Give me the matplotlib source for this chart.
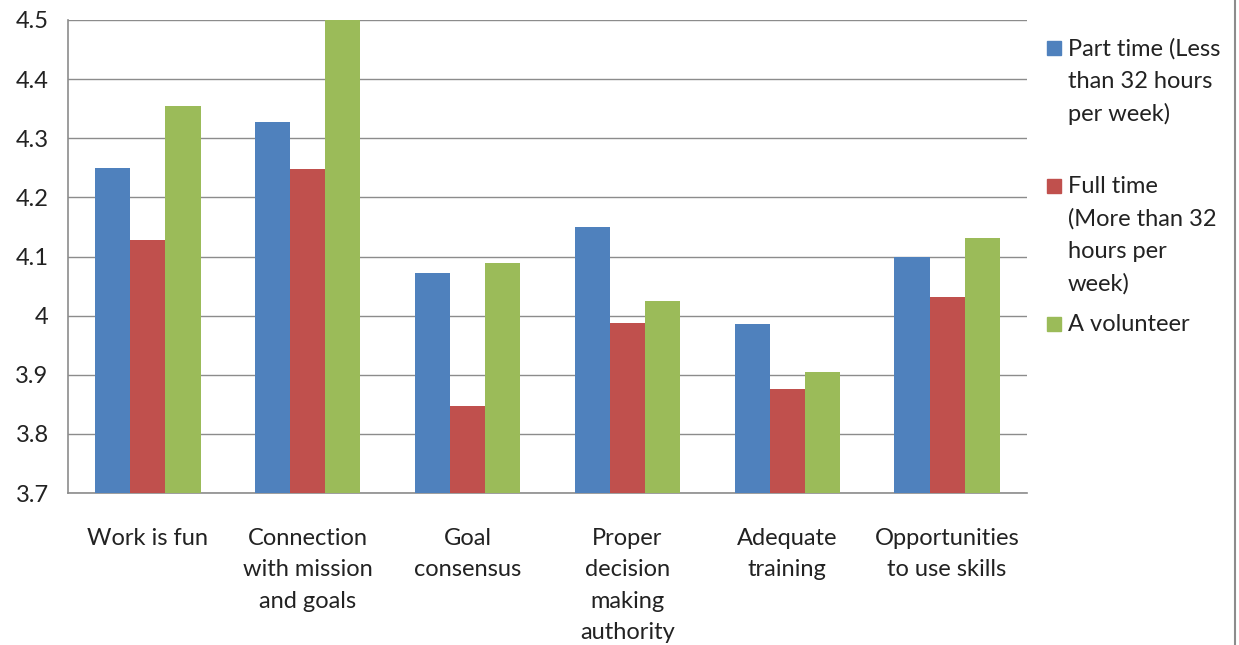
import matplotlib.pyplot as plt
import matplotlib.patches as mpatches
import numpy as np

plt.rcParams['font.family'] = ['Lato', 'DejaVu Sans']

categories = ['Work is fun', 'Connection\nwith mission\nand goals', 'Goal\nconsensus',
              'Proper\ndecision\nmaking\nauthority', 'Adequate\ntraining',
              'Opportunities\nto use skills']
series_names = ['Part time (Less\nthan 32 hours\nper week)',
                'Full time\n(More than 32\nhours per\nweek)',
                'A volunteer']
part_time = [4.25, 4.327, 4.072, 4.15, 3.986, 4.099]
full_time = [4.128, 4.248, 3.847, 3.988, 3.876, 4.031]
volunteer = [4.355, 4.5, 4.089, 4.025, 3.905, 4.131]
colors = ['#4F81BD', '#C0504D', '#9BBB59']

fig = plt.figure(figsize=(12.39, 6.45), dpi=100)
ax = fig.add_axes([68 / 1239, 1 - 493 / 645, (1027 - 68) / 1239, (493 - 20) / 645])

x = np.arange(len(categories))
width = 0.22
for i, vals in enumerate([part_time, full_time, volunteer]):
    ax.bar(x + (i - 1) * width, np.array(vals) - 3.7, width, bottom=3.7,
           color=colors[i], zorder=3)

ax.set_xlim(-0.5, len(categories) - 0.5)
ax.set_ylim(3.7, 4.5)
ax.set_yticks(np.arange(3.7, 4.51, 0.1))
ax.set_yticklabels(['3.7', '3.8', '3.9', '4', '4.1', '4.2', '4.3', '4.4', '4.5'])
ax.yaxis.grid(True, color='#8c8c8c', linewidth=1, zorder=0)
ax.set_xticks(x)
ax.set_xticklabels(categories, linespacing=1.62, va='top')
ax.tick_params(axis='x', length=0, pad=25, labelsize=17, colors='#222222')
ax.tick_params(axis='y', length=0, pad=14, labelsize=17, colors='#222222')
for s in ['top', 'right']:
    ax.spines[s].set_visible(False)
for s in ['left', 'bottom']:
    ax.spines[s].set_color('#8c8c8c')
    ax.spines[s].set_linewidth(1.2)

# legend drawn by hand to get Excel-like spacing
legend_y = [48, 186, 324]
for name, col, yy in zip(series_names, colors, legend_y):
    fig.patches.append(mpatches.Rectangle(
        (1047 / 1239, 1 - (yy + 7) / 645), 14 / 1239, 14 / 645,
        transform=fig.transFigure, color=col))
    fig.text(1068 / 1239, 1 - (yy - 10) / 645, name, fontsize=17,
             va='top', ha='left', linespacing=1.65, color='#222222')

fig.add_artist(plt.Line2D([1235 / 1239, 1235 / 1239], [0, 1],
                          transform=fig.transFigure, color='#8c8c8c', lw=1.5))

fig.savefig('out.png', dpi=100)
